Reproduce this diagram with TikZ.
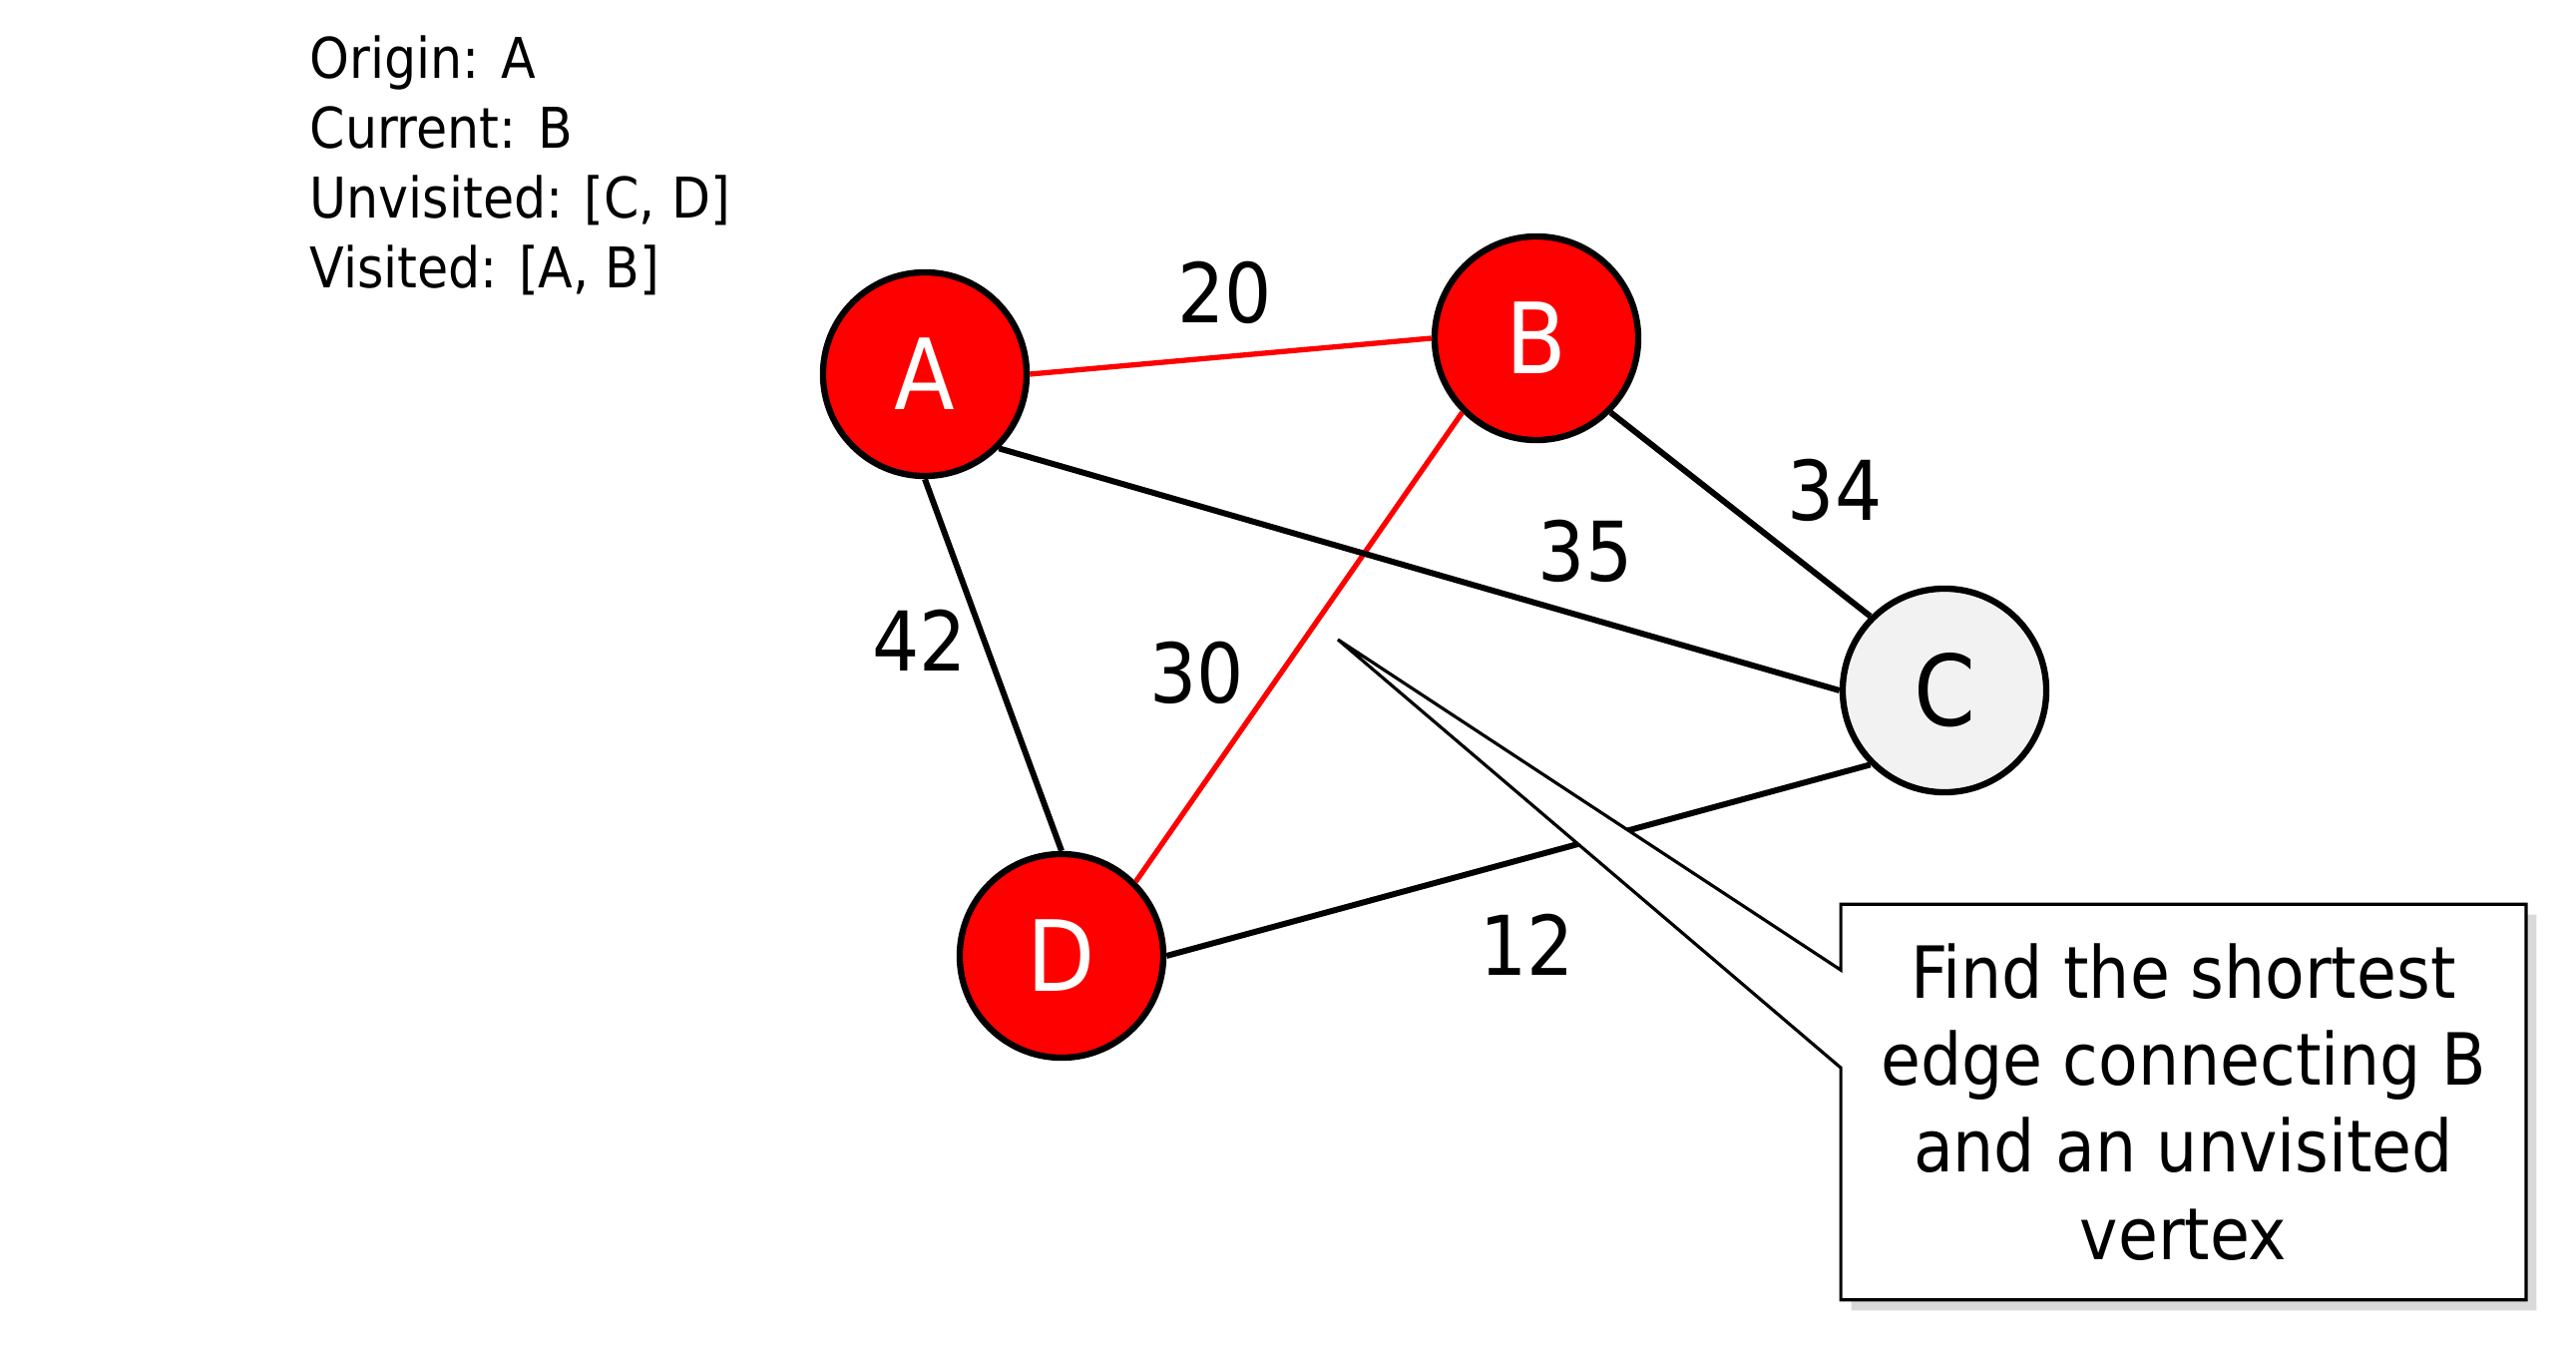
\documentclass[tikz,border=0pt]{standalone}
\usepackage{fontspec}
\setmainfont{DejaVu Sans Condensed}
\usepackage{tikz}
\usetikzlibrary{shadows, calc}

\definecolor{vred}{RGB}{255,0,0}
\definecolor{vgray}{RGB}{242,242,242}

\begin{document}
\begin{tikzpicture}[x=0.01cm, y=-0.01cm,
    vertex/.style={draw, circle, line width=1.8pt, minimum size=2.04cm, inner sep=0pt, font=\fontsize{28}{30}\selectfont},
    visited/.style={vertex, fill=vred, text=white},
    unvisited/.style={vertex, fill=vgray, text=black},
    edge/.style={line width=1.7pt, black},
    tree/.style={line width=1.5pt, vred},
    weight/.style={font=\fontsize{23.5}{26}\selectfont, inner sep=0pt}]
\useasboundingbox (0,0) rectangle (2582,1352);

% Status of the walk
\node[align=left, anchor=west, inner sep=0pt, font=\fontsize{16}{19.9}\selectfont] (status) at (310,166) {Origin: A\\Current: B\\Unvisited: [C, D]\\Visited: [A, B]};

% Vertices
\node[visited] (A) at (927,375) {A};
\node[visited] (B) at (1540,339) {B};
\node[unvisited] (C) at (1949,692) {C};
\node[visited] (D) at (1064,958) {D};

% Edges
\draw[tree] (A.east) -- (B.west);
\draw[tree] (B.-135) -- (D.45);
\draw[edge] (A.south) -- (D.north);
\draw[edge] (A.-45) -- (C.west);
\draw[edge] (B.-45) -- (C.135);
\draw[edge] (D.east) -- (C.-135);

% Weights
\node[weight] (w20) at (1228,293) {20};
\node[weight] (w34) at (1839,491) {34};
\node[weight] (w35) at (1589,552) {35};
\node[weight] (w42) at (922,642) {42};
\node[weight] (w30) at (1200,674) {30};
\node[weight] (w12) at (1531,947) {12};

% Callout
\node[minimum width=6.85cm, minimum height=3.95cm, inner sep=0pt] (note) at (2188.5,1104.5) {};
\coordinate (tip) at (1341,641);
\draw[line width=0.9pt, fill=white, drop shadow={opacity=0.3, shadow xshift=3pt, shadow yshift=-3pt}]
  (note.north west) -- (note.north east) -- (note.south east) -- (note.south west)
  -- ($(note.north west)+(0,164)$) -- (tip) -- ($(note.north west)+(0,66)$) -- cycle;
\node[align=center, font=\fontsize{20.5}{24.8}\selectfont] (notetext) at (note.center) {Find the shortest\\edge connecting B\\and an unvisited\\vertex};

\end{tikzpicture}
\end{document}
